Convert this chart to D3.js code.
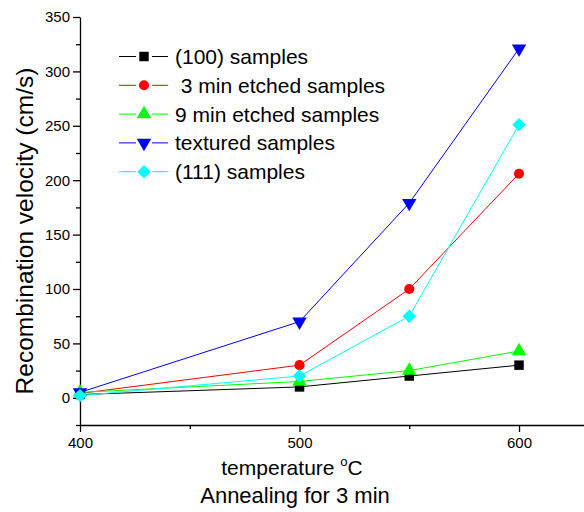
<!DOCTYPE html>
<html>
<head>
<meta charset="utf-8">
<script src="https://cdn.jsdelivr.net/npm/d3@7"></script>
<style>
  body { margin: 0; background: #fff; }
  text { font-family: "Liberation Sans", Arial, sans-serif; fill: #000; }
</style>
</head>
<body>
<svg id="chart" width="584" height="512"></svg>
<script>
// temperatures on the x axis
const temps = [400, 500, 550, 600];

// recombination velocity (cm/s) per series
const s100 = [3, 10, 20, 30];
const etched3 = [4, 30, 100, 206];
const etched9 = [5, 15, 25, 43];
const textured = [5, 70, 179, 321];
const s111 = [2, 20, 75, 251];

const seriesNames = ["(100) samples", " 3 min etched samples", "9 min etched samples", "textured samples", "(111) samples"];
const seriesColors = ["#000000", "#ff0000", "#00ff00", "#0000ff", "#00ffff"];
const seriesShapes = ["square", "circle", "up", "down", "diamond"];
const seriesValues = [s100, etched3, etched9, textured, s111];

const xTicks = [400, 500, 600];
const yTicks = [0, 50, 100, 150, 200, 250, 300, 350];

const svg = d3.select("#chart");

// scales
const x = d3.scaleLinear().domain([400, 629.6]).range([80, 584]);
const y = d3.scaleLinear().domain([-25, 350]).range([425, 17]);

// x axis, major + minor ticks
const xAxis = svg.append("g").attr("transform", "translate(0,425)");
xAxis.call(d3.axisBottom(x).tickValues(xTicks).tickSize(7).tickPadding(5).tickSizeOuter(0));
xAxis.append("g").call(d3.axisBottom(x).tickValues([450, 550]).tickSize(4).tickFormat("").tickSizeOuter(0))
  .select(".domain").remove();
xAxis.selectAll("text").style("font-size", "15px").style("font-family", "Liberation Sans, Arial, sans-serif");

// y axis
const yAxis = svg.append("g").attr("transform", "translate(80,0)");
yAxis.call(d3.axisLeft(y).tickValues(yTicks).tickSize(7).tickPadding(3).tickSizeOuter(0));
yAxis.append("g").call(d3.axisLeft(y).tickValues(d3.range(-25, 350, 50)).tickSize(4).tickFormat("").tickSizeOuter(0))
  .select(".domain").remove();
yAxis.selectAll("text").style("font-size", "15px").style("font-family", "Liberation Sans, Arial, sans-serif");
svg.selectAll(".domain, .tick line").attr("stroke", "#000").attr("stroke-width", 1.3);

// titles
svg.append("text")
  .attr("transform", "translate(33,231) rotate(-90)")
  .attr("text-anchor", "middle")
  .style("font-size", "24.5px")
  .text("Recombination velocity (cm/s)");

const xt = svg.append("text")
  .attr("x", 292).attr("y", 475)
  .attr("text-anchor", "middle")
  .style("font-size", "21px");
xt.append("tspan").text("temperature ");
xt.append("tspan").attr("dy", -9).style("font-size", "13px").text("o");
xt.append("tspan").attr("dy", 9).text("C");

svg.append("text")
  .attr("x", 295).attr("y", 503)
  .attr("text-anchor", "middle")
  .style("font-size", "22px")
  .text("Annealing for 3 min");

// lines and markers
const line = d3.line().x((d, i) => x(temps[i])).y(d => y(d));

function drawSymbol(g, shape, cx, cy, color) {
  let p;
  if (shape === "circle") p = d3.symbol().type(d3.symbolCircle).size(80)();
  else if (shape === "square") p = d3.symbol().type(d3.symbolSquare).size(90)();
  else if (shape === "diamond") p = d3.symbol().type(d3.symbolSquare).size(90)();
  else p = d3.symbol().type(d3.symbolTriangle).size(90)();
  let rot = shape === "down" ? " rotate(180)" : (shape === "diamond" ? " rotate(45)" : "");
  g.append("path")
    .attr("d", p)
    .attr("transform", "translate(" + cx + "," + cy + ")" + rot)
    .attr("fill", color);
}

seriesValues.forEach((vals, k) => {
  const g = svg.append("g");
  g.append("path")
    .attr("d", line(vals))
    .attr("fill", "none")
    .attr("stroke", seriesColors[k])
    .attr("stroke-width", 1);
  vals.forEach((v, i) => drawSymbol(g, seriesShapes[k], x(temps[i]), y(v), seriesColors[k]));
});

// legend
const legend = svg.append("g");
seriesNames.forEach((name, k) => {
  const ly = 56.5 + k * 28.8;
  legend.append("line")
    .attr("x1", 119).attr("x2", 168).attr("y1", ly).attr("y2", ly)
    .attr("stroke", seriesColors[k]).attr("stroke-width", 1);
  legend.append("rect").attr("x", 136).attr("y", ly - 6).attr("width", 16).attr("height", 12).attr("fill", "#fff");
  drawSymbol(legend, seriesShapes[k], 144, ly, seriesColors[k]);
  legend.append("text")
    .attr("x", 175).attr("y", ly + 7.5)
    .style("font-size", "21px")
    .attr("xml:space", "preserve")
    .text(name);
});
</script>
</body>
</html>
